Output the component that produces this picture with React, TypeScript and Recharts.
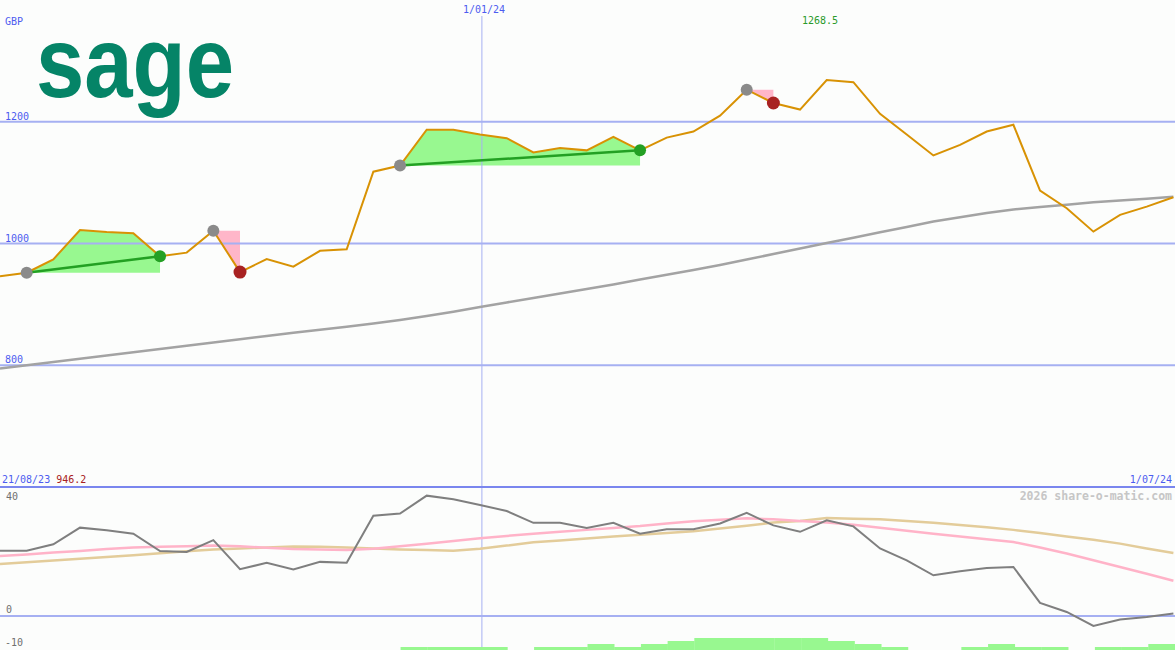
import React from "react";
import { ComposedChart, BarChart, Bar, Line, Area, XAxis, YAxis, ReferenceLine } from "recharts";

// weekly closing prices (GBp)
const price = [946.2, 952, 974, 1022, 1019, 1017, 979, 985, 1021, 953, 974.5, 962, 988, 990.5, 1118, 1128,
  1187, 1187, 1179, 1173, 1149.5, 1157, 1153, 1175, 1153, 1174, 1184, 1210, 1252.7, 1230.8, 1220, 1268.5,
  1265, 1213, 1179, 1144.6, 1162, 1184, 1195, 1087, 1058, 1019.5, 1047, 1060.6, 1076];

// long moving average
const movingAvg = [794.6, 800, 805.3, 810.7, 816, 821.4, 826.7, 832.1, 837.4, 842.8, 848.1, 853.5, 858.3,
  863.3, 868.6, 874.5, 881, 888, 895.8, 903.2, 910.6, 917.9, 925.3, 932.8, 940.7, 948.5, 956.4, 964.6,
  973.7, 982.7, 991.8, 1000.8, 1009.5, 1018.4, 1027.2, 1036, 1043.1, 1050.2, 1055.8, 1059.8, 1063.7,
  1067.7, 1070.6, 1073.6, 1076.9];

// lower panel indicator and its two smoothings
const oscillator = [20.4, 20.4, 22.4, 27.6, 26.8, 25.7, 20.3, 20, 23.7, 14.6, 16.6, 14.5, 16.9, 16.6, 31.3,
  32, 37.6, 36.5, 34.7, 32.8, 29.1, 29.1, 27.5, 29.1, 25.7, 27.1, 27.1, 28.9, 32.2, 28.3, 26.3, 29.9, 28,
  21.1, 17.4, 12.7, 14, 15, 15.3, 4.1, 1.25, -3.1, -1.1, -0.3, 0.75];
const oscFast = [18.7, 19.2, 19.8, 20.3, 20.9, 21.4, 21.6, 21.8, 22.0, 21.8, 21.3, 20.9, 20.8, 20.6, 21.0,
  21.8, 22.6, 23.4, 24.3, 25.0, 25.7, 26.3, 26.9, 27.5, 28.1, 28.9, 29.6, 30.1, 30.5, 30.2, 29.7, 29.2,
  28.5, 27.6, 26.6, 25.7, 24.8, 24.0, 23.1, 21.4, 19.5, 17.4, 15.3, 13.2, 11.0];
const oscSlow = [16.2, 16.8, 17.3, 17.9, 18.4, 19.0, 19.6, 20.2, 20.8, 21.1, 21.4, 21.7, 21.6, 21.4, 21.1,
  20.8, 20.6, 20.4, 21.0, 22.0, 23.0, 23.6, 24.2, 24.8, 25.4, 25.9, 26.5, 27.3, 28.2, 29.2, 29.7, 30.6,
  30.4, 30.2, 29.7, 29.1, 28.4, 27.7, 26.9, 25.9, 24.8, 23.8, 22.6, 21.1, 19.7];

// signal strength bars, one per week interval
const signalBars = [0, 0, 0, 0, 0, 0, 0, 0, 0, 0, 0, 0, 0, 0, 0, 1, 1, 1, 1, 0, 1, 1, 2, 1, 2, 3, 4, 4, 4,
  4, 4, 3, 2, 1, 0, 0, 1, 2, 1, 1, 0, 1, 1, 2];

// trades: index of entry and exit week
const trades = [
  { entry: 1, exit: 6 },
  { entry: 8, exit: 9 },
  { entry: 15, exit: 24 },
  { entry: 28, exit: 29 },
];

const priceTicks = [1200, 1000, 800];
const oscTicks = [40, 0, -10];
const currency = "GBP";
const startDate = "21/08/23";
const endDate = "1/07/24";
const midDate = "1/01/24";
const midDateIndex = 18.07;
const watermark = "2026 share-o-matic.com";

const W = 1175;
const TOP_H = 487;
const LOW_H = 163;
const PRICE_DOMAIN: [number, number] = [600, 1400];
const OSC_DOMAIN: [number, number] = [-10.64, 40.3];
const X_DOMAIN: [number, number] = [0, 44.06];

const BLUE = "#4c5cf0";
const GRID = "#a6b0f2";
const MONO = "'DejaVu Sans Mono', monospace";

const isWin = (t: { entry: number; exit: number }) => price[t.exit] > price[t.entry];

const rows = price.map((p, i) => {
  const row: Record<string, any> = {
    i,
    price: p,
    ma: movingAvg[i],
    osc: oscillator[i],
    fast: oscFast[i],
    slow: oscSlow[i],
  };
  trades.forEach((t, n) => {
    if (i < t.entry || i > t.exit) return;
    const base = price[t.entry];
    const win = isWin(t);
    row[`zone${n}`] = win ? [base, p] : [p, base];
    if (win && (i === t.entry || i === t.exit)) row[`link${n}`] = p;
    if (i === t.entry) row.entryDot = p;
    if (i === t.exit) row[win ? "winDot" : "lossDot"] = p;
  });
  return row;
});

const barRows = signalBars.map((v, k) => ({ k, v }));

const priceY = (v: number) => ((PRICE_DOMAIN[1] - v) * TOP_H) / (PRICE_DOMAIN[1] - PRICE_DOMAIN[0]);
const oscY = (v: number) => TOP_H + ((OSC_DOMAIN[1] - v) * LOW_H) / (OSC_DOMAIN[1] - OSC_DOMAIN[0]);

const Txt: React.FC<{
  x: number;
  y: number;
  color: string;
  right?: boolean;
  center?: boolean;
  size?: number;
  bold?: boolean;
  children: React.ReactNode;
}> = ({ x, y, color, right, center, size = 10, bold, children }) => (
  <div
    style={{
      position: "absolute",
      top: y,
      left: right ? undefined : center ? x - 100 : x,
      right: right ? W - x : undefined,
      width: center ? 200 : undefined,
      textAlign: center ? "center" : undefined,
      fontFamily: MONO,
      fontSize: size,
      lineHeight: `${size}px`,
      fontWeight: bold ? 700 : 400,
      color,
      whiteSpace: "nowrap",
    }}
  >
    {children}
  </div>
);

export default function App() {
  const maxIdx = price.indexOf(Math.max(...price));
  return (
    <div style={{ position: "absolute", top: 0, left: 0, width: W, height: 650, background: "#fcfdfc", overflow: "hidden" }}>
      <svg style={{ position: "absolute", left: 0, top: 0 }} width={300} height={160}>
        <text
          x={36}
          y={97}
          textLength={198}
          lengthAdjust="spacingAndGlyphs"
          fontFamily="'Liberation Sans', Arial, sans-serif"
          fontWeight={700}
          fontSize={100}
          fill="#058467"
        >
          sage
        </text>
      </svg>

      <div style={{ position: "absolute", top: 0, left: 0 }}>
        <ComposedChart width={W} height={TOP_H} data={rows} margin={{ top: 0, right: 0, bottom: 0, left: 0 }}>
          <XAxis type="number" dataKey="i" domain={X_DOMAIN} hide allowDataOverflow />
          <YAxis domain={PRICE_DOMAIN} hide allowDataOverflow />
          {priceTicks.map((v) => (
            <ReferenceLine key={v} y={v} stroke={GRID} strokeWidth={2} />
          ))}
          <ReferenceLine
            segment={[
              { x: midDateIndex, y: PRICE_DOMAIN[1] - (16 * (PRICE_DOMAIN[1] - PRICE_DOMAIN[0])) / TOP_H },
              { x: midDateIndex, y: PRICE_DOMAIN[0] },
            ]}
            stroke={GRID}
            strokeWidth={1}
          />
          {trades.map((t, n) => (
            <Area
              key={`z${n}`}
              type="linear"
              dataKey={`zone${n}`}
              stroke="none"
              fill={isWin(t) ? "#98f890" : "#ffb6c9"}
              fillOpacity={1}
              dot={false}
              activeDot={false}
              isAnimationActive={false}
            />
          ))}
          <Line type="linear" dataKey="ma" stroke="#a3a3a3" strokeWidth={2.5} dot={false} activeDot={false} isAnimationActive={false} />
          <Line type="linear" dataKey="price" stroke="#d89204" strokeWidth={2} dot={false} activeDot={false} isAnimationActive={false} />
          {trades.map((t, n) =>
            isWin(t) ? (
              <Line
                key={`l${n}`}
                type="linear"
                dataKey={`link${n}`}
                connectNulls
                stroke="#23a023"
                strokeWidth={2.5}
                dot={false}
                activeDot={false}
                isAnimationActive={false}
              />
            ) : null
          )}
          <Line dataKey="entryDot" stroke="none" dot={{ r: 6, fill: "#8a8a8a", stroke: "none" }} activeDot={false} isAnimationActive={false} />
          <Line dataKey="winDot" stroke="none" dot={{ r: 6, fill: "#24a024", stroke: "none" }} activeDot={false} isAnimationActive={false} />
          <Line dataKey="lossDot" stroke="none" dot={{ r: 6.5, fill: "#a82222", stroke: "none" }} activeDot={false} isAnimationActive={false} />
        </ComposedChart>
      </div>

      <div style={{ position: "absolute", top: TOP_H, left: 0 }}>
        <ComposedChart width={W} height={LOW_H} data={rows} margin={{ top: 0, right: 0, bottom: 0, left: 0 }}>
          <XAxis type="number" dataKey="i" domain={X_DOMAIN} hide allowDataOverflow />
          <YAxis domain={OSC_DOMAIN} hide allowDataOverflow />
          <ReferenceLine x={midDateIndex} stroke={GRID} strokeWidth={1} />
          <ReferenceLine y={0} stroke={GRID} strokeWidth={2} />
          <Line type="linear" dataKey="slow" stroke="#e3cc9a" strokeWidth={2.5} dot={false} activeDot={false} isAnimationActive={false} />
          <Line type="linear" dataKey="fast" stroke="#ffb3c8" strokeWidth={2.5} dot={false} activeDot={false} isAnimationActive={false} />
          <Line type="linear" dataKey="osc" stroke="#7f7f7f" strokeWidth={2} dot={false} activeDot={false} isAnimationActive={false} />
        </ComposedChart>
      </div>

      <div style={{ position: "absolute", top: TOP_H, left: 0 }}>
        <BarChart width={W} height={LOW_H} data={barRows} margin={{ top: 0, right: 0, bottom: 0, left: 0 }} barCategoryGap={0} barGap={0}>
          <XAxis dataKey="k" hide />
          <YAxis domain={[0, 54.3]} hide allowDataOverflow />
          <Bar dataKey="v" fill="#98f890" isAnimationActive={false} />
        </BarChart>
      </div>

      <div style={{ position: "absolute", top: 486, left: 0, width: W, height: 2, background: "#7a86ee" }} />

      <Txt x={5} y={17} color={BLUE}>{currency}</Txt>
      {priceTicks.map((v) => (
        <Txt key={v} x={5} y={priceY(v) - 10} color={BLUE}>
          {v}
        </Txt>
      ))}
      <Txt x={484} y={4.5} color={BLUE} center>{midDate}</Txt>
      <Txt x={802 + (maxIdx - 31) * 26.67} y={16} color="#2a9a2a">{price[maxIdx].toFixed(1)}</Txt>
      <Txt x={2} y={474.5} color={BLUE}>
        {startDate} <span style={{ color: "#a82020" }}>{price[0].toFixed(1)}</span>
      </Txt>
      <Txt x={1172} y={474.5} color={BLUE} right>{endDate}</Txt>
      <Txt x={1172} y={490.5} color="#c6c6c6" right size={11.5} bold>{watermark}</Txt>
      <Txt x={6} y={491.5} color="#707070">{oscTicks[0]}</Txt>
      <Txt x={6} y={oscY(oscTicks[1]) - 10.5} color="#707070">{oscTicks[1]}</Txt>
      <Txt x={5} y={oscY(oscTicks[2]) - 10} color="#707070">{oscTicks[2]}</Txt>
    </div>
  );
}
